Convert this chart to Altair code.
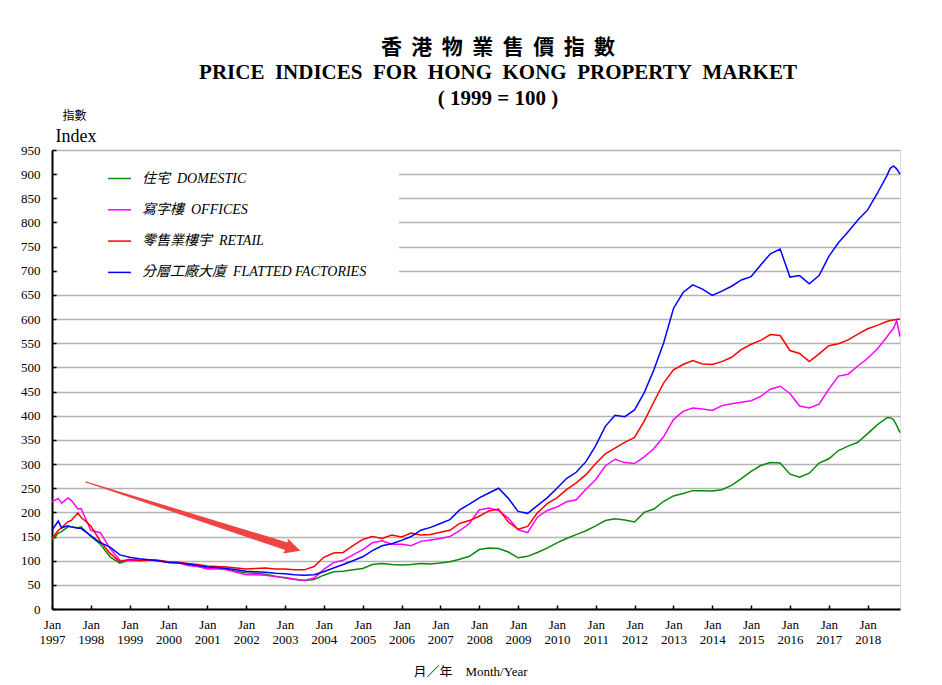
import altair as alt
import pandas as pd

# ---------------- data ----------------
dates = [
    "1997-01", "1997-03", "1997-04", "1997-06", "1997-07", "1997-09", "1997-10",
    "1998-01", "1998-04", "1998-07", "1998-10",
    "1999-01", "1999-04", "1999-07", "1999-10",
    "2000-01", "2000-04", "2000-07", "2000-10",
    "2001-01", "2001-04", "2001-07", "2001-10",
    "2002-01", "2002-04", "2002-07", "2002-10",
    "2003-01", "2003-04", "2003-07", "2003-10",
    "2004-01", "2004-04", "2004-07", "2004-10",
    "2005-01", "2005-04", "2005-07", "2005-10",
    "2006-01", "2006-04", "2006-07", "2006-10",
    "2007-01", "2007-04", "2007-07", "2007-10",
    "2008-01", "2008-04", "2008-07", "2008-10",
    "2009-01", "2009-04", "2009-07", "2009-10",
    "2010-01", "2010-04", "2010-07", "2010-10",
    "2011-01", "2011-04", "2011-07", "2011-10",
    "2012-01", "2012-04", "2012-07", "2012-10",
    "2013-01", "2013-04", "2013-07", "2013-10",
    "2014-01", "2014-04", "2014-07", "2014-10",
    "2015-01", "2015-04", "2015-07", "2015-10",
    "2016-01", "2016-04", "2016-07", "2016-10",
    "2017-01", "2017-04", "2017-07", "2017-10",
    "2018-01", "2018-04", "2018-07", "2018-08", "2018-09", "2018-10", "2018-11",
]

domestic = [
    143, 157, 160, 170, 170, 168, 170,
    150, 134, 108, 95,
    102, 101, 102, 100,
    97, 96, 92, 90,
    84, 84, 82, 78,
    75, 74, 72, 68,
    64, 61, 59, 61,
    70, 77, 78, 81,
    84, 92, 94, 92,
    91, 92, 94, 93,
    95, 98, 103, 109,
    123, 126, 125, 118,
    106, 109, 117, 126,
    137, 146, 154, 162,
    172, 183, 187, 184,
    180, 200, 207, 223,
    234, 239, 245, 245,
    244, 247, 256, 270,
    285, 297, 303, 302,
    279, 273, 281, 302,
    311, 328, 337, 345,
    363, 381, 396, 396, 392, 380, 365,
]

offices = [
    222, 229, 219, 230, 225, 207, 208,
    163, 158, 125, 101,
    100, 101, 102, 100,
    96, 96, 90, 88,
    83, 84, 81, 76,
    71, 71, 70, 67,
    65, 62, 59, 64,
    82, 96, 101, 112,
    123, 137, 141, 134,
    134, 131, 140, 143,
    146, 150, 162, 177,
    205, 209, 204, 188,
    164, 158, 190, 204,
    211, 222, 226, 248,
    268, 296, 310, 303,
    301, 315, 332, 357,
    392, 409, 416, 414,
    411, 421, 425, 428,
    431, 440, 455, 461,
    446, 420, 416, 424,
    455, 482, 486, 503,
    519, 538, 563, 573, 581, 597, 564,
]

retail = [
    146, 163, 168, 181, 183, 199, 190,
    172, 140, 115, 98,
    103, 100, 101, 101,
    98, 97, 94, 92,
    89, 88, 87, 85,
    83, 84, 85, 83,
    83, 81, 81, 88,
    107, 116, 117, 131,
    144, 150, 146, 153,
    149, 157, 153, 154,
    159, 163, 177, 183,
    192, 203, 207, 180,
    165, 171, 199, 218,
    230, 247, 261, 278,
    301, 321, 333, 345,
    355, 389, 429, 468,
    495, 506, 514, 507,
    506, 512, 521, 537,
    548, 556, 568, 566,
    535, 529, 512, 528,
    545, 549, 557, 569,
    580, 587, 595, 597, 598, 599, 600,
]

factories = [
    163, 182, 168, 172, 170, 167, 167,
    152, 137, 128, 112,
    107, 104, 102, 100,
    96, 95, 93, 90,
    87, 86, 84, 81,
    78, 77, 76, 74,
    73, 71, 70, 71,
    77, 85, 92, 100,
    108, 121, 131, 135,
    142, 150, 163, 169,
    177, 185, 205, 217,
    230, 240, 250, 229,
    202, 198, 214, 230,
    250, 270, 283, 305,
    338, 378, 401, 398,
    412, 448, 495, 551,
    622, 655, 671, 662,
    649, 658, 668, 681,
    688, 712, 735, 745,
    687, 690, 673, 690,
    730, 758, 781, 805,
    826, 860, 897, 912, 917, 911, 900,
]

series_names = [
    "住宅\u00a0\u00a0DOMESTIC",
    "寫字樓\u00a0\u00a0OFFICES",
    "零售業樓宇\u00a0\u00a0RETAIL",
    "分層工廠大廈\u00a0\u00a0FLATTED FACTORIES",
]
series_colors = ["#0a8a0a", "#ff00ff", "#ff0000", "#0000ff"]

tick_years = list(range(1997, 2019))
y_ticks = list(range(0, 951, 50))

# annotation arrow (centre of the arrow, in data units)
arrow_date = ["2000-08-17"]
arrow_value = [192]

title_lines = [
    "香\u00a0\u2009港\u00a0\u2009物\u00a0\u2009業\u00a0\u2009售\u00a0\u2009價\u00a0\u2009指\u00a0\u2009數",
    "PRICE\u00a0 INDICES\u00a0 FOR\u00a0 HONG\u00a0 KONG\u00a0 PROPERTY\u00a0 MARKET",
    "( 1999 = 100 )",
]

# ---------------- build tables ----------------
rows = []
for name, vals in zip(series_names, [domestic, offices, retail, factories]):
    for d, v in zip(dates, vals):
        rows.append({"date": d + "-01T00:00:00", "series": name, "value": v})
df = pd.DataFrame(rows)

arrow_df = pd.DataFrame({"date": [d + "T00:00:00" for d in arrow_date], "value": arrow_value})

SERIF = "Liberation Serif, Times New Roman, Noto Sans CJK TC, serif"
CJK = "Noto Sans CJK TC, Liberation Serif, sans-serif"

tick_dates = [alt.DateTime(year=y, month=1, date=1) for y in tick_years]
x_scale = alt.Scale(
    domain=[alt.DateTime(year=1997, month=1, date=1), alt.DateTime(year=2018, month=11, date=1)],
    nice=False,
)
y_scale = alt.Scale(domain=[0, 950], nice=False)

lines = alt.Chart(df).mark_line(strokeWidth=1.5).encode(
    x=alt.X(
        "date:T",
        scale=x_scale,
        axis=alt.Axis(
            orient="bottom",
            values=tick_dates,
            labelExpr="['Jan', timeFormat(datum.value, '%Y')]",
            ticks=False,
            grid=False,
            domainColor="black",
            domainWidth=2,
            labelFont=SERIF,
            labelFontSize=13,
            labelColor="black",
            labelPadding=9,
            labelLineHeight=15,
            labelAngle=0,
            labelAlign="center",
            labelBaseline="top",
            labelFlush=False,
            labelOverlap=False,
            title="月／年\u00a0\u00a0\u00a0\u00a0Month/Year",
            titleFont=SERIF,
            titleFontSize=13,
            titleFontWeight="normal",
            titleColor="black",
            titleX=418,
            titleY=66,
            titleAlign="center",
            titleBaseline="alphabetic",
        ),
    ),
    y=alt.Y(
        "value:Q",
        scale=y_scale,
        axis=alt.Axis(
            orient="left",
            values=y_ticks,
            ticks=False,
            grid=True,
            gridColor="#b4b4b4",
            gridWidth=1.5,
            domainColor="black",
            domainWidth=2,
            labelFont=SERIF,
            labelFontSize=13,
            labelColor="black",
            labelPadding=12,
            title="Index",
            titleFont=SERIF,
            titleFontSize=18,
            titleFontWeight="normal",
            titleColor="black",
            titleAngle=0,
            titleAlign="left",
            titleBaseline="alphabetic",
            titleX=3,
            titleY=-9,
        ),
    ),
    color=alt.Color(
        "series:N",
        scale=alt.Scale(domain=series_names, range=series_colors),
        legend=alt.Legend(
            title=None,
            orient="none",
            legendX=6,
            legendY=8,
            direction="vertical",
            symbolType="stroke",
            symbolSize=529,
            symbolStrokeWidth=1.5,
            symbolOffset=41,
            labelFont=SERIF,
            labelFontStyle="italic",
            labelFontSize=14,
            labelColor="black",
            labelOffset=10,
            labelLimit=500,
            labelExpr="datum.label + '\u00a0\u00a0\u00a0\u00a0\u00a0\u00a0\u00a0\u200b'",
            rowPadding=11.3,
            padding=8,
            fillColor="white",
        ),
    ),
)

ARROW_PATH = "M-1,-0.005L0.87,-0.035L0.86,-0.07L1,0L0.86,0.07L0.87,0.035L-1,0.005Z"

arrow = alt.Chart(arrow_df).mark_point(
    shape=ARROW_PATH,
    filled=True,
    size=51076,
    angle=17.8,
    color="#f04444",
    opacity=1,
    strokeWidth=0,
).encode(
    x=alt.X(
        "date:T",
        scale=x_scale,
        axis=alt.Axis(
            orient="bottom",
            offset=-4,
            values=tick_dates,
            ticks=True,
            tickSize=4,
            tickWidth=1.5,
            tickColor="black",
            labels=False,
            domain=False,
            grid=False,
            title="指數",
            titleFont=CJK,
            titleFontSize=12,
            titleFontWeight="normal",
            titleColor="black",
            titleX=10,
            titleY=-485.5,
            titleAlign="left",
            titleBaseline="alphabetic",
        ),
    ),
    y=alt.Y(
        "value:Q",
        scale=y_scale,
        axis=alt.Axis(
            orient="left",
            offset=-4,
            values=y_ticks,
            ticks=True,
            tickSize=4,
            tickWidth=1.5,
            tickColor="black",
            labels=False,
            domain=False,
            grid=False,
            title=None,
        ),
    ),
)

chart = (
    alt.layer(lines, arrow)
    .resolve_axis(x="independent", y="independent")
    .properties(
        width=848,
        height=459,
        autosize=alt.AutoSizeParams(type="none"),
        padding={"left": 44, "top": 142, "right": 34, "bottom": 68},
        title=alt.TitleParams(
            text=title_lines,
            font=SERIF,
            fontSize=21,
            fontWeight="bold",
            color="black",
            anchor="middle",
            dx=22,
            lineHeight=25.5,
            offset=1,
        ),
    )
    .configure_view(stroke="black", strokeWidth=2)
    .configure(background="white")
)

chart.save("out.html", embed_options={"renderer": "svg", "actions": False})
